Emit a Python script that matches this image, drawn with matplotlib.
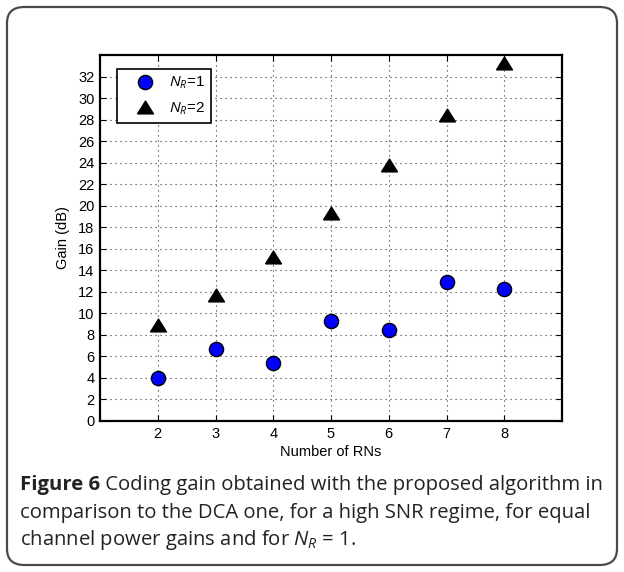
import matplotlib
matplotlib.use("Agg")
import matplotlib.pyplot as plt
from matplotlib.patches import FancyBboxPatch

# ---- data ----
rns = [2, 3, 4, 5, 6, 7, 8]
gain_nr1 = [4.0, 6.7, 5.4, 9.3, 8.5, 12.9, 12.3]
gain_nr2 = [8.9, 11.7, 15.2, 19.3, 23.8, 28.4, 33.3]
series_labels = ['$N_R$=1', '$N_R$=2']
xticks = [2, 3, 4, 5, 6, 7, 8]
yticks = list(range(0, 33, 2))
xlabel = 'Number of RNs'
ylabel = 'Gain (dB)'
caption_bold = 'Figure 6'
caption_lines = [' Coding gain obtained with the proposed algorithm in',
                 'comparison to the DCA one, for a high SNR regime, for equal',
                 'channel power gains and for $N_R$ = 1.']

plt.rcParams['font.family'] = ['Liberation Sans', 'DejaVu Sans']
plt.rcParams['mathtext.fontset'] = 'custom'
plt.rcParams['mathtext.rm'] = 'Liberation Sans'
plt.rcParams['mathtext.it'] = 'Liberation Sans:italic'

W, H = 624, 572
fig = plt.figure(figsize=(W / 100, H / 100), dpi=100)

# rounded outer frame
box = FancyBboxPatch((7 / W, 7 / H), (W - 14) / W, (H - 14) / H,
                     boxstyle="round,pad=0,rounding_size=0.028",
                     transform=fig.transFigure, fill=False,
                     edgecolor='#4a4a4a', linewidth=1.6)
fig.patches.append(box)

ax = fig.add_axes([100 / W, 1 - 421 / H, 462 / W, 366 / H])
tri = [(-1.0, -0.8), (1.0, -0.8), (0.0, 0.8), (-1.0, -0.8)]
ax.plot(rns, gain_nr1, linestyle='none', marker='o', markersize=10.2,
        markerfacecolor='#0000ff', markeredgecolor='black', markeredgewidth=1.0,
        label=series_labels[0], zorder=3, clip_on=False)
ax.plot(rns, gain_nr2, linestyle='none', marker=tri, markersize=11.5,
        markerfacecolor='black', markeredgecolor='black',
        label=series_labels[1], zorder=3, clip_on=False)

ax.set_xlim(1, 9)
ax.set_ylim(0, 34)
ax.set_xticks(xticks)
ax.set_yticks(yticks)
ax.tick_params(direction='in', top=True, right=True, labelsize=10.5,
               length=4, width=0.8, pad=4)
ax.grid(True, linestyle=(0, (1, 3.5)), color='#333333', linewidth=0.8)
for s in ax.spines.values():
    s.set_linewidth(1.6)
ax.set_xlabel(xlabel, fontsize=10.5, labelpad=3)
ax.set_ylabel(ylabel, fontsize=10.5, labelpad=6)

leg = ax.legend(loc='upper left', bbox_to_anchor=(0.037, 0.962),
                fancybox=False, framealpha=1, edgecolor='black',
                fontsize=11, handletextpad=0.2, borderpad=0.4,
                labelspacing=0.6, handlelength=2.8, borderaxespad=0)
leg.get_frame().set_linewidth(1.2)

# caption
cap_fs = 14.6
fam = ['Open Sans', 'DejaVu Sans']
x0 = 20 / W
ys = [1 - 485 / H, 1 - 513 / H, 1 - 540 / H]
plt.rcParams['mathtext.rm'] = 'Open Sans'
plt.rcParams['mathtext.it'] = 'Open Sans:italic'
t = fig.text(x0, ys[0], caption_bold, fontsize=cap_fs, fontweight='bold',
             family=fam, va='center', color='#222222')
r = fig.canvas.get_renderer()
bb = t.get_window_extent(renderer=r)
fig.text(bb.x1 / W, ys[0], caption_lines[0], fontsize=cap_fs, family=fam,
         va='center', color='#222222')
for y, line in zip(ys[1:], caption_lines[1:]):
    fig.text(x0, y, line, fontsize=cap_fs, family=fam, va='center',
             color='#222222')

fig.savefig('out.png', dpi=100)
